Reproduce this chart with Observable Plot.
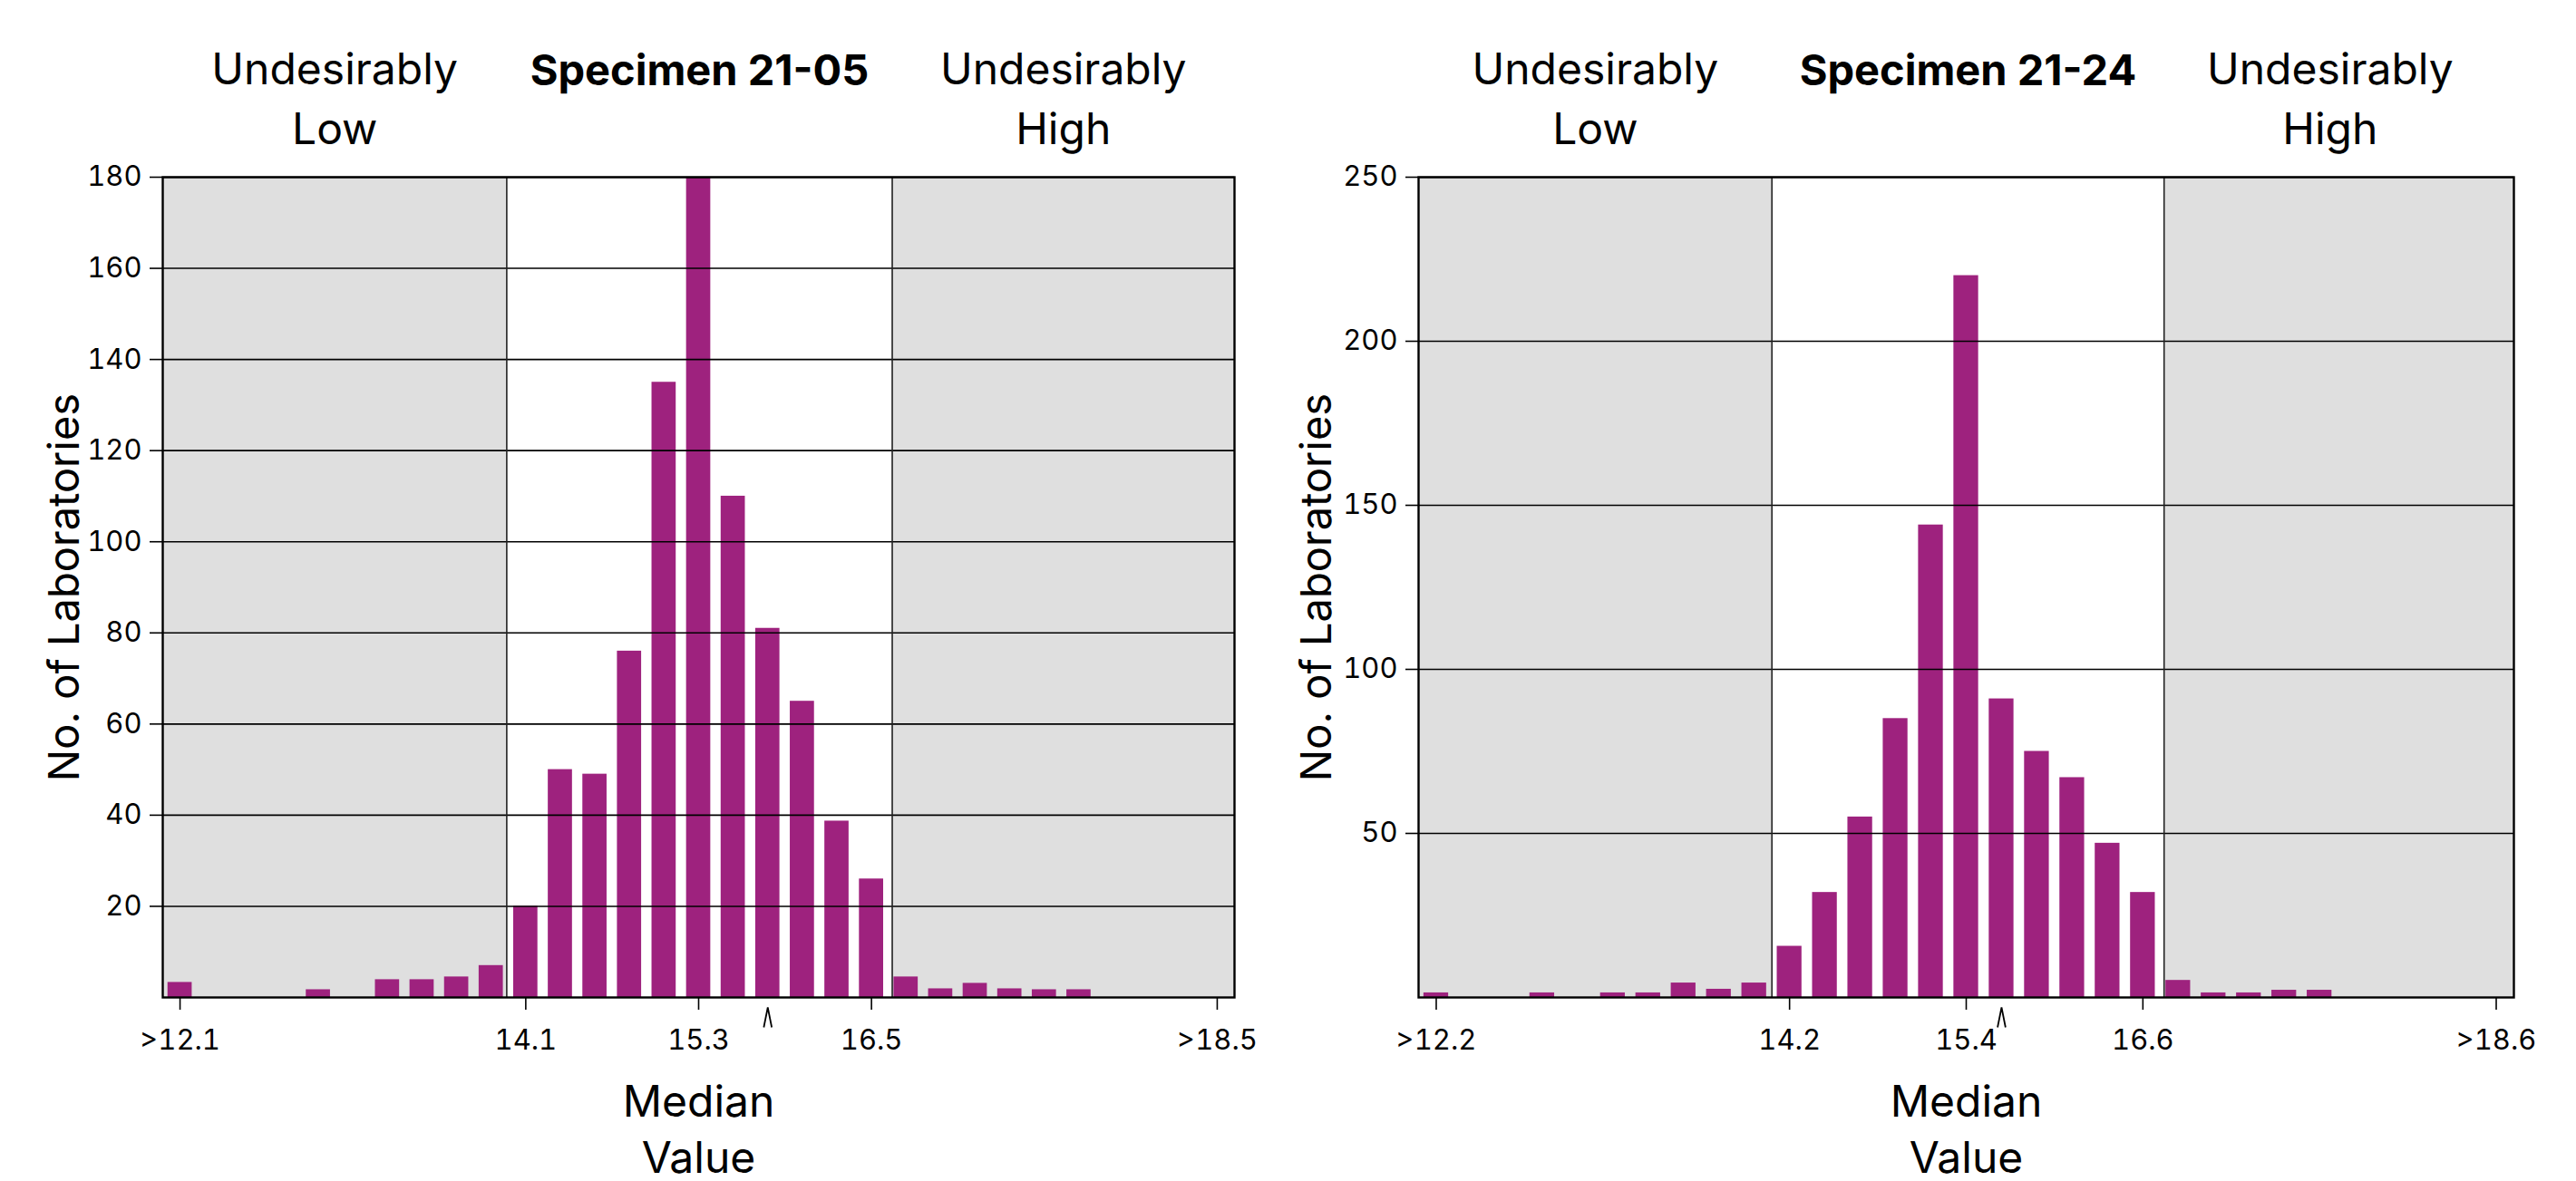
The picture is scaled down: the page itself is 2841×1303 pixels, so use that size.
<!DOCTYPE html>
<html>
<head>
<meta charset="utf-8">
<script src="https://cdn.jsdelivr.net/npm/d3@7"></script>
<script src="https://cdn.jsdelivr.net/npm/@observablehq/plot@0.6"></script>
<style>
  html, body { margin: 0; padding: 0; background: #fff; width: 2841px; height: 1303px; overflow: hidden; }
  #wrap { position: relative; width: 2841px; height: 1303px; }
  #a { position: absolute; left: 0; top: 0; width: 1420px; height: 1303px; }
  #b { position: absolute; left: 1420px; top: 0; width: 1421px; height: 1303px; }
</style>
</head>
<body>
<div id="wrap"><div id="a"></div><div id="b"></div></div>
<script>
// ---------- Data ----------
const nBins = 31;                       // ordinal bins, index 0..30
const lowLabel = "Undesirably\nLow";
const highLabel = "Undesirably\nHigh";
const yLabel = "No. of Laboratories";
const xLabel = "Median\nValue";

// Specimen 21-05
const titleA = "Specimen 21-05";
const binsA   = [0, 4, 6, 7, 8, 9, 10, 11, 12, 13, 14, 15, 16, 17, 18, 19, 20, 21, 22, 23, 24, 25, 26];
const countsA = [3.3, 1.7, 3.9, 3.9, 4.5, 7, 20, 50, 49, 76, 135, 180, 110, 81, 65, 38.7, 26, 4.5, 1.9, 3.1, 1.9, 1.7, 1.7];
const tickPosA = [0, 10, 15, 20, 30];
const tickLabelsA = [">12.1", "14.1", "15.3", "16.5", ">18.5"];
const yTicksA = [20, 40, 60, 80, 100, 120, 140, 160, 180];
const yMaxA = 180;
const limitsA = [9.45, 20.6];
const caretA = 17;

// Specimen 21-24
const titleB = "Specimen 21-24";
const binsB   = [0, 3, 5, 6, 7, 8, 9, 10, 11, 12, 13, 14, 15, 16, 17, 18, 19, 20, 21, 22, 23, 24, 25];
const countsB = [1.4, 1.4, 1.4, 1.4, 4.4, 2.5, 4.4, 15.6, 32, 55, 85, 144, 220, 91, 75, 67, 47, 32, 5.2, 1.4, 1.4, 2.2, 2.2];
const tickPosB = [0, 10, 15, 20, 30];
const tickLabelsB = [">12.2", "14.2", "15.4", "16.6", ">18.6"];
const yTicksB = [50, 100, 150, 200, 250];
const yMaxB = 250;
const limitsB = [9.5, 20.6];
const caretB = 16;

// open caret marker (inverted V) used below the axis
const caretSymbol = {
  draw(context, size) {
    const s = Math.sqrt(size / Math.PI);
    context.moveTo(-0.4 * s, s);
    context.lineTo(0, -s);
    context.lineTo(0.4 * s, s);
  }
};

// ---------- Drawing ----------
function panel(o) {
  const data = o.bins.map((b, i) => ({bin: b, count: o.counts[i]}));
  const lo = -0.5, hi = nBins - 0.5;
  const regions = [{x1: lo, x2: o.limits[0]}, {x1: o.limits[1], x2: hi}];
  const heads = [
    {x: (lo + o.limits[0]) / 2, t: lowLabel},
    {x: (o.limits[1] + hi) / 2 - o.hiShift, t: highLabel}
  ];
  const center = [{x: (o.limits[0] + o.limits[1]) / 2, t: o.title}];
  return Plot.plot({
    width: o.width,
    height: 1303,
    marginLeft: o.ml,
    marginRight: o.mr,
    marginTop: 195,
    marginBottom: 203,
    x: {type: "linear", domain: [lo, hi], axis: null},
    y: {domain: [0, o.yMax], axis: null},
    style: {fontFamily: "Inter, 'Noto Sans', sans-serif", fontSize: "31px", color: "#000", background: "#fff", overflow: "visible"},
    marks: [
      Plot.rect(regions, {x1: "x1", x2: "x2", fill: "#dfdfdf"}),
      Plot.rectY(data, {x1: d => d.bin - 0.35, x2: d => d.bin + 0.35, y: "count", fill: "#9e227e"}),
      Plot.gridY(o.yTicks, {stroke: "#000", strokeOpacity: 1, strokeWidth: 1.6}),
      Plot.ruleX(o.limits, {stroke: "#222", strokeWidth: 1.6}),
      Plot.axisY(o.yTicks, {tickSize: 14, tickPadding: 9, label: null, strokeWidth: 1.6}),
      Plot.axisX(o.tickPos, {tickSize: 14, tickPadding: 21, label: null, strokeWidth: 1.6,
        tickFormat: d => o.tickLabels[o.tickPos.indexOf(d)]}),
      Plot.frame({stroke: "#000", strokeWidth: 2.4}),
      Plot.dot([o.caret], {x: d => d, frameAnchor: "bottom", dy: 22, r: 11, symbol: caretSymbol, fill: "none", stroke: "#000", strokeWidth: 1.8}),
      Plot.text(heads, {x: "x", text: "t", frameAnchor: "top", lineAnchor: "bottom", dy: -37, fontSize: 48, lineHeight: 1.37}),
      Plot.text(center, {x: "x", text: "t", frameAnchor: "top", lineAnchor: "bottom", dy: -102, fontSize: 47, fontWeight: 700}),
      Plot.text([yLabel], {frameAnchor: "left", textAnchor: "middle", rotate: -90, dx: o.ydx, fontSize: 47, lineAnchor: "middle"}),
      Plot.text([xLabel], {frameAnchor: "bottom", textAnchor: "middle", lineAnchor: "top", dy: 87, fontSize: 48, lineHeight: 1.3})
    ]
  });
}

document.getElementById("a").append(panel({
  width: 1420, ml: 179, mr: 59, ydx: -108, hiShift: 0,
  title: titleA, bins: binsA, counts: countsA, tickPos: tickPosA, tickLabels: tickLabelsA,
  yTicks: yTicksA, yMax: yMaxA, limits: limitsA, caret: caretA
}));
document.getElementById("b").append(panel({
  width: 1421, ml: 144, mr: 69, ydx: -112, hiShift: 0.25,
  title: titleB, bins: binsB, counts: countsB, tickPos: tickPosB, tickLabels: tickLabelsB,
  yTicks: yTicksB, yMax: yMaxB, limits: limitsB, caret: caretB
}));
</script>
</body>
</html>
